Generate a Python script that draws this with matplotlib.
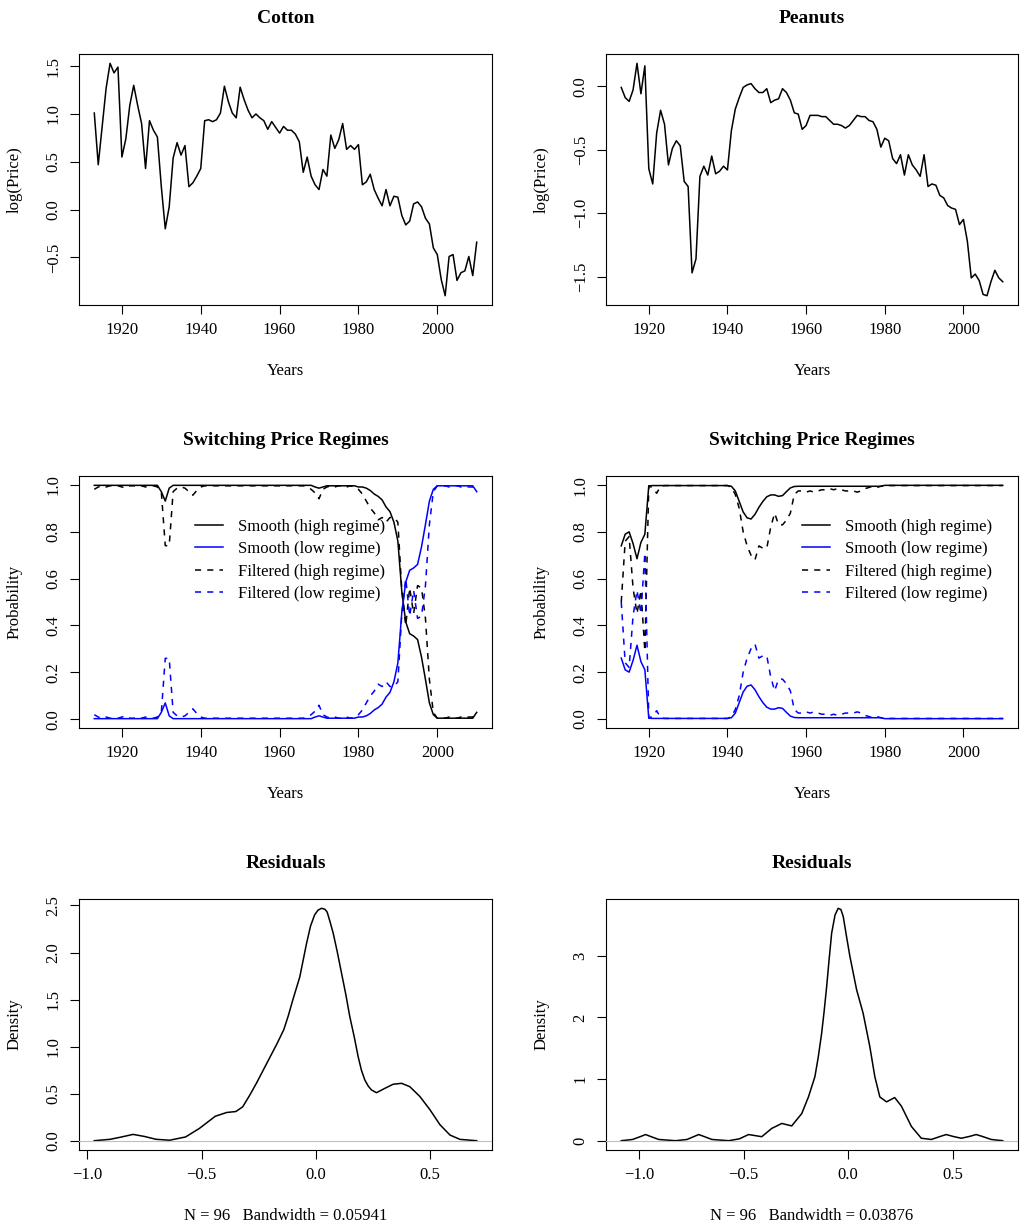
import matplotlib
matplotlib.use("Agg")
import matplotlib.pyplot as plt

plt.rcParams['font.family'] = ['Liberation Serif', 'DejaVu Serif']
plt.rcParams['axes.unicode_minus'] = True

YEARS = list(range(1913, 2011))

# log(Price), 1913 .. 2010
COTTON = [1.01, 0.47, 0.87, 1.27, 1.53, 1.43, 1.49,
          0.55, 0.74, 1.09, 1.30, 1.09, 0.90, 0.43, 0.93, 0.83, 0.76,
          0.24, -0.20, 0.03, 0.54, 0.70, 0.57, 0.67, 0.24, 0.28, 0.35,
          0.43, 0.93, 0.94, 0.92, 0.94, 1.01, 1.29, 1.13, 1.01, 0.96,
          1.28, 1.15, 1.04, 0.96, 1.00, 0.96, 0.93, 0.84, 0.92, 0.86,
          0.80, 0.87, 0.83, 0.83, 0.79, 0.71, 0.39, 0.55, 0.35, 0.26,
          0.21, 0.42, 0.35, 0.78, 0.64, 0.73, 0.90, 0.63, 0.67, 0.63,
          0.68, 0.26, 0.29, 0.37, 0.21, 0.12, 0.04, 0.21, 0.04, 0.14,
          0.13, -0.06, -0.16, -0.12, 0.06, 0.08, 0.03, -0.09, -0.15, -0.40,
          -0.47, -0.73, -0.90, -0.49, -0.47, -0.74, -0.66, -0.64, -0.49, -0.69,
          -0.34]
PEANUTS = [-0.01, -0.09, -0.12, -0.03, 0.18, -0.06, 0.16,
           -0.65, -0.77, -0.37, -0.19, -0.30, -0.62, -0.49, -0.43, -0.47, -0.75,
           -0.79, -1.47, -1.36, -0.71, -0.63, -0.70, -0.55, -0.69, -0.67, -0.63,
           -0.66, -0.35, -0.18, -0.09, -0.01, 0.01, 0.02, -0.02, -0.05, -0.05,
           -0.02, -0.13, -0.11, -0.10, -0.02, -0.05, -0.11, -0.21, -0.22, -0.34,
           -0.31, -0.23, -0.23, -0.23, -0.24, -0.24, -0.27, -0.30, -0.30, -0.31,
           -0.33, -0.31, -0.27, -0.23, -0.24, -0.24, -0.27, -0.28, -0.34, -0.48,
           -0.41, -0.43, -0.57, -0.61, -0.54, -0.70, -0.54, -0.62, -0.66, -0.71,
           -0.54, -0.79, -0.77, -0.78, -0.86, -0.88, -0.94, -0.96, -0.97, -1.09,
           -1.05, -1.22, -1.51, -1.48, -1.53, -1.64, -1.65, -1.54, -1.45, -1.51,
           -1.54]

# regime probabilities, cotton
COT_SMOOTH_HIGH = [0.997, 0.997, 0.997, 0.997, 0.997, 0.997, 0.997,
                   0.997, 0.997, 0.997, 0.997, 0.997, 0.997, 0.997, 0.997, 0.997, 0.997,
                   0.97, 0.93, 0.985, 0.997, 0.997, 0.997, 0.997, 0.997, 0.997, 0.997,
                   0.997, 0.997, 0.997, 0.997, 0.997, 0.997, 0.997, 0.997, 0.997, 0.997,
                   0.997, 0.997, 0.997, 0.997, 0.997, 0.997, 0.997, 0.997, 0.997, 0.997,
                   0.997, 0.997, 0.997, 0.997, 0.997, 0.997, 0.997, 0.997, 0.997, 0.99,
                   0.985, 0.99, 0.995, 0.995, 0.995, 0.995, 0.995, 0.995, 0.995, 0.995,
                   0.99, 0.99, 0.985, 0.975, 0.96, 0.95, 0.935, 0.905, 0.885, 0.84,
                   0.76, 0.545, 0.415, 0.365, 0.355, 0.34, 0.265, 0.17, 0.07, 0.02,
                   0.005, 0.005, 0.005, 0.005, 0.005, 0.005, 0.005, 0.005, 0.005, 0.005,
                   0.03]
COT_SMOOTH_LOW = [0.003, 0.003, 0.003, 0.003, 0.003, 0.003, 0.003,
                  0.003, 0.003, 0.003, 0.003, 0.003, 0.003, 0.003, 0.003, 0.003, 0.003,
                  0.03, 0.07, 0.015, 0.003, 0.003, 0.003, 0.003, 0.003, 0.003, 0.003,
                  0.003, 0.003, 0.003, 0.003, 0.003, 0.003, 0.003, 0.003, 0.003, 0.003,
                  0.003, 0.003, 0.003, 0.003, 0.003, 0.003, 0.003, 0.003, 0.003, 0.003,
                  0.003, 0.003, 0.003, 0.003, 0.003, 0.003, 0.003, 0.003, 0.003, 0.01,
                  0.015, 0.01, 0.005, 0.005, 0.005, 0.005, 0.005, 0.005, 0.005, 0.005,
                  0.01, 0.01, 0.015, 0.025, 0.04, 0.05, 0.065, 0.095, 0.115, 0.16,
                  0.24, 0.455, 0.585, 0.635, 0.645, 0.66, 0.735, 0.83, 0.93, 0.98,
                  0.995, 0.995, 0.995, 0.995, 0.995, 0.995, 0.995, 0.995, 0.995, 0.995,
                  0.97]
COT_FILT_HIGH = [0.98, 0.99, 0.995, 0.99, 0.995, 0.995, 0.995,
                 0.99, 0.985, 0.995, 0.995, 0.99, 0.995, 0.99, 0.995, 0.995, 0.99,
                 0.97, 0.74, 0.74, 0.97, 0.985, 0.99, 0.985, 0.97, 0.955, 0.975,
                 0.99, 0.995, 0.995, 0.995, 0.995, 0.995, 0.995, 0.995, 0.995, 0.995,
                 0.995, 0.995, 0.995, 0.995, 0.995, 0.995, 0.995, 0.995, 0.995, 0.995,
                 0.995, 0.995, 0.995, 0.995, 0.995, 0.995, 0.995, 0.99, 0.98, 0.965,
                 0.94, 0.98, 0.99, 0.995, 0.99, 0.995, 0.995, 0.99, 0.995, 0.99,
                 0.98, 0.96, 0.93, 0.90, 0.88, 0.85, 0.86, 0.84, 0.86, 0.86,
                 0.84, 0.55, 0.40, 0.56, 0.45, 0.57, 0.56, 0.43, 0.17, 0.03,
                 0.005, 0.01, 0.005, 0.01, 0.005, 0.005, 0.01, 0.005, 0.01, 0.01,
                 0.03]
COT_FILT_LOW = [0.02, 0.01, 0.005, 0.01, 0.005, 0.005, 0.005,
                0.01, 0.015, 0.005, 0.005, 0.01, 0.005, 0.01, 0.005, 0.005, 0.01,
                0.03, 0.26, 0.26, 0.03, 0.015, 0.01, 0.015, 0.03, 0.045, 0.025,
                0.01, 0.005, 0.005, 0.005, 0.005, 0.005, 0.005, 0.005, 0.005, 0.005,
                0.005, 0.005, 0.005, 0.005, 0.005, 0.005, 0.005, 0.005, 0.005, 0.005,
                0.005, 0.005, 0.005, 0.005, 0.005, 0.005, 0.005, 0.01, 0.02, 0.035,
                0.06, 0.02, 0.01, 0.005, 0.01, 0.005, 0.005, 0.01, 0.005, 0.01,
                0.02, 0.04, 0.07, 0.10, 0.12, 0.15, 0.14, 0.16, 0.14, 0.14,
                0.16, 0.45, 0.60, 0.44, 0.55, 0.43, 0.44, 0.57, 0.83, 0.97,
                0.995, 0.99, 0.995, 0.99, 0.995, 0.995, 0.99, 0.995, 0.99, 0.99,
                0.97]

# regime probabilities, peanuts
PEA_SMOOTH_HIGH = [0.74, 0.79, 0.80, 0.75, 0.685, 0.755, 0.79,
                   0.997, 0.998, 0.998, 0.998, 0.998, 0.998, 0.998, 0.998, 0.998, 0.998,
                   0.998, 0.998, 0.998, 0.998, 0.998, 0.998, 0.998, 0.998, 0.998, 0.998,
                   0.998, 0.995, 0.975, 0.93, 0.885, 0.86, 0.855, 0.875, 0.905, 0.93,
                   0.95, 0.958, 0.958, 0.952, 0.955, 0.972, 0.988, 0.994, 0.995, 0.995,
                   0.995, 0.995, 0.995, 0.995, 0.995, 0.995, 0.995, 0.995, 0.995, 0.995,
                   0.995, 0.995, 0.995, 0.995, 0.995, 0.995, 0.995, 0.995, 0.995, 0.995,
                   0.999, 0.999, 0.999, 0.999, 0.999, 0.999, 0.999, 0.999, 0.999, 0.999,
                   0.999, 0.999, 0.999, 0.999, 0.999, 0.999, 0.999, 0.999, 0.999, 0.999,
                   0.999, 0.999, 0.999, 0.999, 0.999, 0.999, 0.999, 0.999, 0.999, 0.999,
                   0.999]
PEA_SMOOTH_LOW = [0.26, 0.21, 0.20, 0.25, 0.315, 0.245, 0.21,
                  0.003, 0.002, 0.002, 0.002, 0.002, 0.002, 0.002, 0.002, 0.002, 0.002,
                  0.002, 0.002, 0.002, 0.002, 0.002, 0.002, 0.002, 0.002, 0.002, 0.002,
                  0.002, 0.005, 0.025, 0.07, 0.115, 0.14, 0.145, 0.125, 0.095, 0.07,
                  0.05, 0.042, 0.042, 0.048, 0.045, 0.028, 0.012, 0.006, 0.005, 0.005,
                  0.005, 0.005, 0.005, 0.005, 0.005, 0.005, 0.005, 0.005, 0.005, 0.005,
                  0.005, 0.005, 0.005, 0.005, 0.005, 0.005, 0.005, 0.005, 0.005, 0.005,
                  0.001, 0.001, 0.001, 0.001, 0.001, 0.001, 0.001, 0.001, 0.001, 0.001,
                  0.001, 0.001, 0.001, 0.001, 0.001, 0.001, 0.001, 0.001, 0.001, 0.001,
                  0.001, 0.001, 0.001, 0.001, 0.001, 0.001, 0.001, 0.001, 0.001, 0.001,
                  0.001]
PEA_FILT_HIGH = [0.50, 0.76, 0.78, 0.56, 0.45, 0.55, 0.29,
                 0.995, 0.99, 0.965, 0.995, 0.998, 0.998, 0.998, 0.998, 0.998, 0.998,
                 0.998, 0.998, 0.998, 0.998, 0.998, 0.998, 0.998, 0.998, 0.998, 0.998,
                 0.998, 0.99, 0.96, 0.90, 0.80, 0.74, 0.70, 0.68, 0.74, 0.73,
                 0.73, 0.82, 0.88, 0.83, 0.83, 0.85, 0.88, 0.96, 0.975, 0.975,
                 0.97, 0.975, 0.97, 0.975, 0.98, 0.98, 0.985, 0.98, 0.985, 0.98,
                 0.975, 0.975, 0.975, 0.97, 0.975, 0.985, 0.99, 0.995, 0.99, 0.995,
                 0.998, 0.998, 0.998, 0.998, 0.998, 0.998, 0.998, 0.998, 0.998, 0.998,
                 0.998, 0.998, 0.998, 0.998, 0.998, 0.998, 0.998, 0.998, 0.998, 0.998,
                 0.998, 0.998, 0.998, 0.998, 0.998, 0.998, 0.998, 0.998, 0.998, 0.998,
                 0.998]
PEA_FILT_LOW = [0.50, 0.24, 0.22, 0.44, 0.55, 0.45, 0.71,
                0.005, 0.01, 0.035, 0.005, 0.002, 0.002, 0.002, 0.002, 0.002, 0.002,
                0.002, 0.002, 0.002, 0.002, 0.002, 0.002, 0.002, 0.002, 0.002, 0.002,
                0.002, 0.01, 0.04, 0.10, 0.20, 0.26, 0.30, 0.32, 0.26, 0.27,
                0.27, 0.18, 0.12, 0.17, 0.17, 0.15, 0.12, 0.04, 0.025, 0.025,
                0.03, 0.025, 0.03, 0.025, 0.02, 0.02, 0.015, 0.02, 0.015, 0.02,
                0.025, 0.025, 0.025, 0.03, 0.025, 0.015, 0.01, 0.005, 0.01, 0.005,
                0.002, 0.002, 0.002, 0.002, 0.002, 0.002, 0.002, 0.002, 0.002, 0.002,
                0.002, 0.002, 0.002, 0.002, 0.002, 0.002, 0.002, 0.002, 0.002, 0.002,
                0.002, 0.002, 0.002, 0.002, 0.002, 0.002, 0.002, 0.002, 0.002, 0.002,
                0.002]

# residual densities
COT_RES_X = [-0.97, -0.90, -0.85, -0.80, -0.75, -0.70, -0.64, -0.57, -0.51, -0.44,
             -0.39, -0.35, -0.32, -0.29, -0.26, -0.23, -0.20, -0.17, -0.14, -0.12,
             -0.10, -0.085, -0.07, -0.055, -0.04, -0.023, -0.005, 0.01, 0.025, 0.04,
             0.05, 0.061, 0.076, 0.094, 0.113, 0.132, 0.149, 0.168, 0.186, 0.20,
             0.215, 0.23, 0.244, 0.266, 0.303, 0.339, 0.376, 0.412, 0.456, 0.50,
             0.544, 0.588, 0.632, 0.705]
COT_RES_D = [0.0, 0.015, 0.04, 0.067, 0.045, 0.015, 0.005, 0.04, 0.13, 0.26,
             0.30, 0.31, 0.36, 0.48, 0.61, 0.75, 0.89, 1.03, 1.18, 1.33,
             1.50, 1.62, 1.74, 1.92, 2.10, 2.28, 2.40, 2.45, 2.47, 2.46,
             2.43, 2.34, 2.21, 2.01, 1.78, 1.55, 1.32, 1.11, 0.89, 0.75,
             0.645, 0.58, 0.54, 0.51, 0.557, 0.60, 0.61, 0.574, 0.47, 0.33,
             0.17, 0.06, 0.014, 0.0]
PEA_RES_X = [-1.084, -1.03, -0.99, -0.968, -0.945, -0.905, -0.825, -0.77, -0.735, -0.714,
             -0.69, -0.651, -0.571, -0.52, -0.476, -0.413, -0.365, -0.317, -0.27, -0.222,
             -0.19, -0.159, -0.143, -0.127, -0.115, -0.103, -0.091, -0.079, -0.063, -0.048,
             -0.035, -0.024, -0.008, 0.008, 0.04, 0.071, 0.103, 0.127, 0.151, 0.183,
             0.222, 0.254, 0.302, 0.349, 0.397, 0.44, 0.468, 0.50, 0.54, 0.58,
             0.611, 0.64, 0.683, 0.738]
PEA_RES_D = [0.0, 0.02, 0.07, 0.10, 0.07, 0.02, 0.0, 0.02, 0.07, 0.10,
             0.07, 0.02, 0.0, 0.03, 0.10, 0.065, 0.20, 0.28, 0.24, 0.44,
             0.71, 1.04, 1.36, 1.74, 2.10, 2.50, 2.95, 3.37, 3.66, 3.77,
             3.75, 3.64, 3.31, 2.99, 2.45, 2.07, 1.53, 1.04, 0.71, 0.63,
             0.70, 0.56, 0.23, 0.04, 0.02, 0.07, 0.10, 0.07, 0.04, 0.07,
             0.10, 0.07, 0.02, 0.0]

W, H = 1021, 1230
fig = plt.figure(figsize=(W / 100, H / 100), dpi=100)


def panel(left, top, right, bottom):
    return fig.add_axes([left / W, 1 - bottom / H, (right - left) / W, (bottom - top) / H])


def r_style(ax, title, xlabel, ylabel, xticks, xlabels, yticks, ylabels):
    ax.margins(0.04)
    ax.set_xticks(xticks, xlabels)
    ax.set_yticks(yticks, ylabels)
    ax.tick_params(direction='out', length=6.5, width=0.8, labelsize=12, pad=6)
    for lab in ax.get_yticklabels():
        lab.set_rotation(90)
        lab.set_va('center')
    for sp in ax.spines.values():
        sp.set_linewidth(0.8)
    ax.set_title(title, fontsize=14, fontweight='bold', pad=22)
    ax.set_xlabel(xlabel, fontsize=12, va='center')
    ax.set_ylabel(ylabel, fontsize=12, va='center')
    bb = ax.get_position()
    ax.xaxis.set_label_coords(0.5, -66 / (bb.height * H))
    ax.yaxis.set_label_coords(-64 / (bb.width * W), 0.5)


def fmt(vals):
    return [f"{v:.1f}".replace('-', '\u2212') for v in vals]


year_ticks = [1920, 1940, 1960, 1980, 2000]
year_labels = [str(y) for y in year_ticks]
cols = [(79, 492), (606, 1018)]

# top row: prices
for (l, r), name, series, yt in [(cols[0], 'Cotton', COTTON, [-0.5, 0.0, 0.5, 1.0, 1.5]),
                                 (cols[1], 'Peanuts', PEANUTS, [-1.5, -1.0, -0.5, 0.0])]:
    ax = panel(l, 54, r, 305)
    ax.plot(YEARS, series, color='black', lw=1.1)
    r_style(ax, name, 'Years', 'log(Price)', year_ticks, year_labels, yt, fmt(yt))

# middle row: regime probabilities
prob_ticks = [0.0, 0.2, 0.4, 0.6, 0.8, 1.0]
for (l, r), sets, lx in [(cols[0], (COT_SMOOTH_HIGH, COT_SMOOTH_LOW, COT_FILT_HIGH, COT_FILT_LOW), 0.281),
                         (cols[1], (PEA_SMOOTH_HIGH, PEA_SMOOTH_LOW, PEA_FILT_HIGH, PEA_FILT_LOW), 0.476)]:
    ax = panel(l, 476, r, 728)
    sh, sl, fh, fl = sets
    ax.plot(YEARS, sh, color='black', lw=1.1, label='Smooth (high regime)')
    ax.plot(YEARS, sl, color='#0000FF', lw=1.1, label='Smooth (low regime)')
    ax.plot(YEARS, fh, color='black', lw=1.1, ls=(0, (4, 4)), label='Filtered (high regime)')
    ax.plot(YEARS, fl, color='#0000FF', lw=1.1, ls=(0, (4, 4)), label='Filtered (low regime)')
    r_style(ax, 'Switching Price Regimes', 'Years', 'Probability',
            year_ticks, year_labels, prob_ticks, fmt(prob_ticks))
    ax.legend(loc='upper left', bbox_to_anchor=(lx, 0.83), frameon=False, fontsize=12,
              handlelength=1.7, handletextpad=0.85, labelspacing=0.38,
              borderpad=0, borderaxespad=0)

# bottom row: residual densities
dens_x = [-1.0, -0.5, 0.0, 0.5]
for (l, r), xs, ds, yt, ylab, bw in [
        (cols[0], COT_RES_X, COT_RES_D, [0.0, 0.5, 1.0, 1.5, 2.0, 2.5], None, '0.05941'),
        (cols[1], PEA_RES_X, PEA_RES_D, [0, 1, 2, 3], ['0', '1', '2', '3'], '0.03876')]:
    ax = panel(l, 899, r, 1150)
    ax.plot(xs, ds, color='black', lw=1.1)
    ax.axhline(0, color='#BEBEBE', lw=0.8, zorder=3)
    r_style(ax, 'Residuals', f'N = 96   Bandwidth = {bw}', 'Density',
            dens_x, fmt(dens_x), yt, ylab if ylab else fmt(yt))

fig.savefig('out.png', dpi=100)
